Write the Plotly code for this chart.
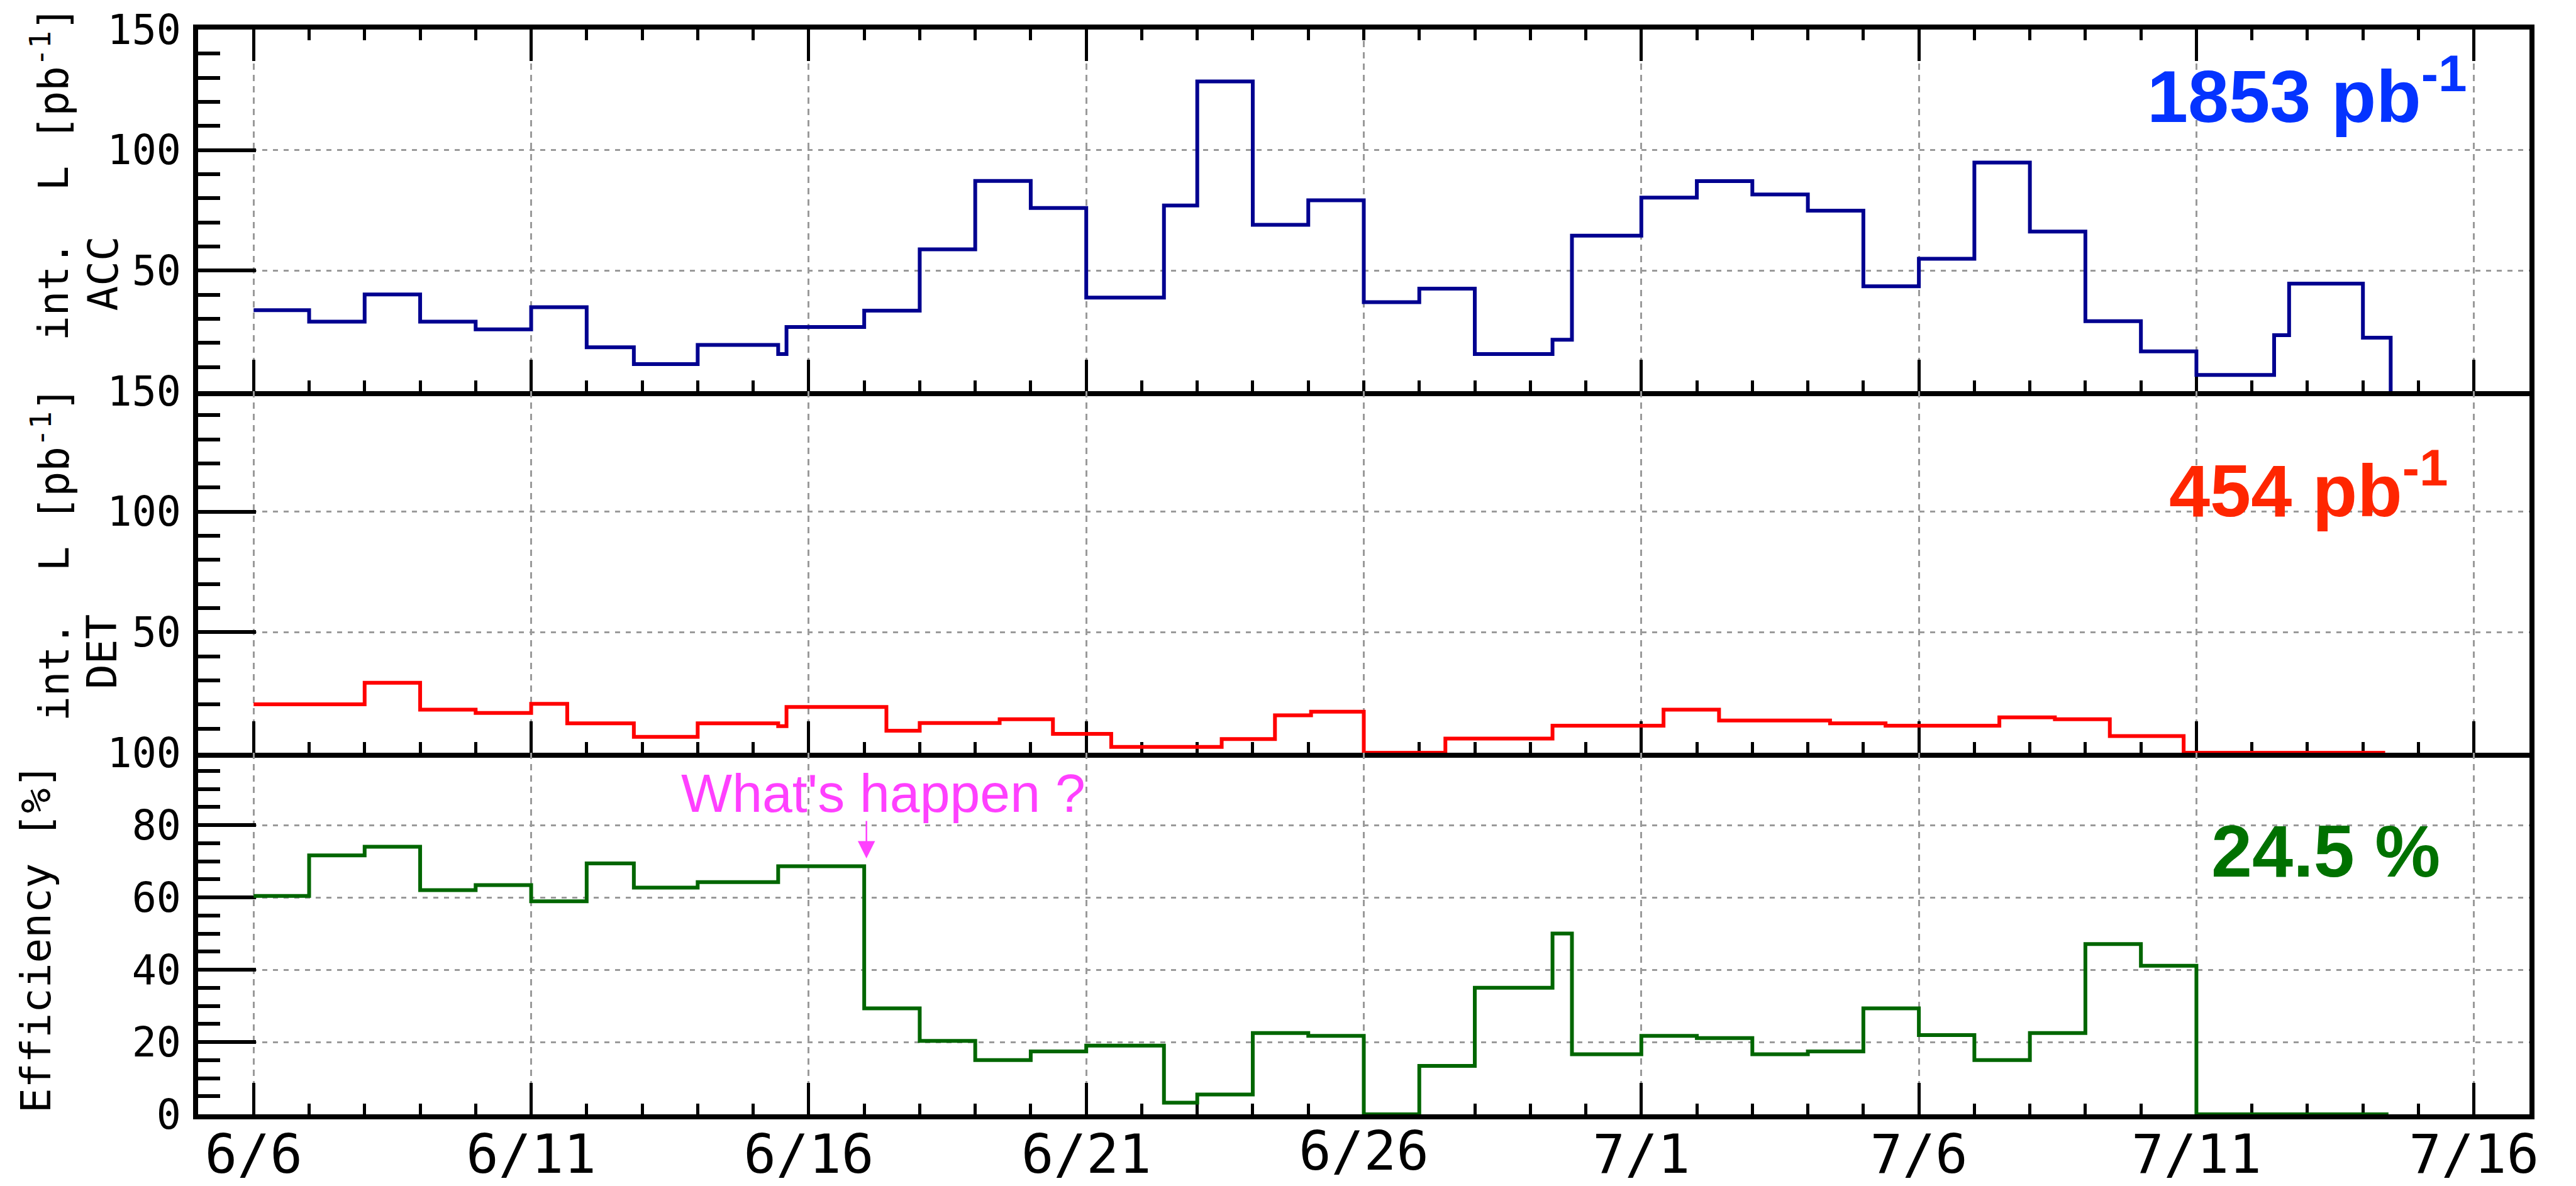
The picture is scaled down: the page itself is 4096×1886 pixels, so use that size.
import plotly.graph_objects as go

# ---------------- data ----------------
# x positions are days counted from 6/6 (day 0)
tick_days = [0, 5, 10, 15, 20, 25, 30, 35, 40]
tick_labels = ["6/6", "6/11", "6/16", "6/21", "6/26", "7/1", "7/6", "7/11", "7/16"]
low_label = "6/26"  # this date label sits a little lower than the others

acc_edges = [0, 1, 2, 3, 4, 5, 6, 6.85, 8, 9.45, 9.6, 11, 12, 13, 14, 15, 16.4, 17, 18, 19,
             20, 21, 22, 23.4, 23.75, 25, 26, 27, 28, 29, 30, 31, 32, 33, 34, 35, 36.4, 36.67, 38, 38.5]
acc_values = [33.6, 28.8, 40.1, 28.8, 25.6, 34.8, 18.2, 11.2, 19.2, 15.4, 26.6, 33.4, 58.8, 87.2,
              76.0, 38.8, 77.0, 128.5, 69.0, 79.2, 36.9, 42.5, 15.4, 21.3, 64.5, 80.3, 87.1, 81.6,
              74.9, 43.5, 54.9, 94.8, 66.2, 29.0, 16.5, 6.7, 23.2, 44.6, 22.2]

det_edges = [0, 2, 3, 4, 5, 5.65, 6.85, 8, 9.45, 9.6, 11.4, 12, 13.44, 14.4, 15.45, 17.44, 18.4,
             19.05, 20, 21.47, 23.4, 25.4, 26.4, 28.4, 29.4, 31.45, 32.45, 33.44, 34.77, 38.4]
det_values = [20.1, 29.0, 17.9, 16.5, 20.3, 12.2, 6.6, 12.2, 11.0, 19.0, 9.1, 12.3, 13.9, 7.8,
              2.4, 5.7, 15.5, 17.0, 0.0, 5.9, 11.2, 17.9, 13.4, 12.2, 11.2, 14.7, 13.9, 6.9, 0.0]

eff_edges = [0, 1, 2, 3, 4, 5, 6, 6.85, 8, 9.45, 11, 12, 13, 14, 15, 16.4, 17, 18, 19, 20, 21, 22,
             23.4, 23.75, 25, 26, 27, 28, 29, 30, 31, 32, 33, 34, 35, 38.46]
eff_values = [60.4, 71.6, 74.0, 62.0, 63.4, 58.9, 69.4, 62.7, 64.2, 68.6, 29.3, 20.3, 15.0, 17.4,
              19.0, 3.2, 5.5, 22.5, 21.7, 0.0, 13.4, 35.0, 50.0, 16.6, 21.7, 21.1, 16.6, 17.4,
              29.3, 21.9, 15.0, 22.5, 47.1, 41.1, 0.0]

acc_total = "1853 pb<sup>-1</sup>"
det_total = "454 pb<sup>-1</sup>"
eff_total = "24.5 %"
note_text = "What's happen ?"
note_day = 11.04
note_span = [81.4, 70.8]  # arrow tail, arrow tip (efficiency units)

# ---------------- layout geometry ----------------
W, H = 4096, 1886
ML, MR, MT, MB = 315, 74, 47, 114
PW = W - ML - MR
PH = H - MT - MB


def px(x):
    return (x - ML) / PW


def py(y):
    return (H - MB - y) / PH


MONO = "DejaVu Sans Mono"
SANS = "Liberation Sans, Arial, sans-serif"
GRID = "#9a9a9a"

fig = go.Figure()


def step_trace(edges, values, color, yaxis):
    return go.Scatter(
        x=edges, y=values + [0.0], mode="lines", line_shape="hv",
        line=dict(color=color, width=6), xaxis=yaxis.replace("y", "x"), yaxis=yaxis,
        cliponaxis=False, showlegend=False, hoverinfo="skip")


fig.add_trace(step_trace(acc_edges, acc_values, "#000090", "y"))
fig.add_trace(step_trace(det_edges, det_values, "#ff0000", "y2"))
fig.add_trace(step_trace(eff_edges, eff_values, "#006600", "y3"))
# carrier for the separate (lower) date label axis
fig.add_trace(go.Scatter(x=[None], y=[None], xaxis="x4", yaxis="y3", mode="lines",
                         showlegend=False, hoverinfo="skip"))

minor_days = list(range(-1, 42))
main_ticktext = [t if t != low_label else "" for t in tick_labels]


def xaxis(anchor, labels, mirror, showline=True):
    return dict(
        anchor=anchor, range=[-1, 41], tickmode="array", tickvals=tick_days,
        ticktext=main_ticktext,
        showticklabels=labels, tickfont=dict(family=MONO, size=86, color="black"),
        ticks="inside", ticklen=50, tickwidth=5, tickcolor="black",
        minor=dict(ticks="inside", ticklen=17, tickwidth=5, tickcolor="black",
                   tickmode="array", tickvals=minor_days, showgrid=False),
        showgrid=True, gridcolor=GRID, gridwidth=3, griddash="10px,8px",
        showline=showline, linecolor="black", linewidth=8, mirror=mirror,
        zeroline=False, layer="below traces", fixedrange=True, automargin=False,
        ticklabelstandoff=-18,
    )


def yaxis(domain, rng, major, minor, labels):
    return dict(
        domain=domain, range=rng, tickmode="array", tickvals=major, ticktext=labels,
        tickfont=dict(family=MONO, size=65, color="black"),
        ticks="inside", ticklen=92, tickwidth=6, tickcolor="black",
        minor=dict(ticks="inside", ticklen=35, tickwidth=6, tickcolor="black",
                   tickmode="array", tickvals=minor, showgrid=False),
        showgrid=True, gridcolor=GRID, gridwidth=3, griddash="8px,9px",
        showline=True, linecolor="black", linewidth=8, mirror=True,
        zeroline=False, layer="below traces", fixedrange=True, automargin=False,
        ticklabelstandoff=6,
    )


lum_major = [50, 100, 150]
lum_labels = ["50", "100", "150"]
lum_minor = [v for v in range(10, 150, 10) if v % 50]
eff_major = [0, 20, 40, 60, 80, 100]
eff_labels = ["0", "20", "40", "60", "80", "100"]
eff_minor = [v for v in range(5, 100, 5) if v % 20]

fig.update_layout(
    width=W, height=H, margin=dict(l=ML, r=MR, t=MT, b=MB, autoexpand=False),
    paper_bgcolor="white", plot_bgcolor="white",
    xaxis=xaxis("y", False, "ticks"),
    xaxis2=xaxis("y2", False, False),
    xaxis3=xaxis("y3", True, False),
    xaxis4=dict(anchor="y3", overlaying="x3", side="bottom", range=[-1, 41],
                tickmode="array", tickvals=[tick_days[tick_labels.index(low_label)]],
                ticktext=[low_label], tickfont=dict(family=MONO, size=86, color="black"),
                ticks="", showline=False, showgrid=False, zeroline=False,
                ticklabelstandoff=1, fixedrange=True, automargin=False),
    yaxis=yaxis([2 / 3, 1], [0, 150], lum_major, lum_minor, lum_labels),
    yaxis2=yaxis([1 / 3, 2 / 3], [0, 150], lum_major, lum_minor, lum_labels),
    yaxis3=yaxis([0, 1 / 3], [0, 100], eff_major, eff_minor, eff_labels),
)

nb = "\u00a0"
ann = []
# y titles
ann.append(dict(text=f"int.{nb}{nb}L{nb}[pb<sup>-1</sup>]", x=px(80), y=py(276),
                textangle=-90, font=dict(family=MONO, size=66, color="black")))
ann.append(dict(text="ACC", x=px(163.5), y=py(435), textangle=-90,
                font=dict(family=MONO, size=66, color="black")))
ann.append(dict(text=f"int.{nb}{nb}L{nb}[pb<sup>-1</sup>]", x=px(81), y=py(881),
                textangle=-90, font=dict(family=MONO, size=66, color="black")))
ann.append(dict(text="DET", x=px(162), y=py(1037), textangle=-90,
                font=dict(family=MONO, size=66, color="black")))
ann.append(dict(text=f"Efficiency{nb}[%]", x=px(57), y=py(1492), textangle=-90,
                font=dict(family=MONO, size=66, color="black")))
# totals
ann.append(dict(text=f"<b>{acc_total}</b>", x=px(3925), y=py(145), xanchor="right",
                font=dict(family=SANS, size=117, color="#0433ff")))
ann.append(dict(text=f"<b>{det_total}</b>", x=px(3894), y=py(772), xanchor="right",
                font=dict(family=SANS, size=117, color="#ff2600")))
ann.append(dict(text=f"<b>{eff_total}</b>", x=px(3882), y=py(1353), xanchor="right",
                font=dict(family=SANS, size=117, color="#007100")))
# note
ann.append(dict(text=note_text, x=px(1081), y=py(1261), xanchor="left",
                font=dict(family=SANS, size=86, color="#ff40ff")))

for a in ann:
    a.setdefault("xref", "paper")
    a.setdefault("yref", "paper")
    a.setdefault("xanchor", "center")
    a.setdefault("yanchor", "middle")
    a["showarrow"] = False
    fig.add_annotation(**a)

fig.add_annotation(x=note_day, y=note_span[1], ax=note_day, ay=note_span[0],
                   xref="x3", yref="y3", axref="x3", ayref="y3", text="",
                   showarrow=True, arrowhead=2, arrowsize=2.2, arrowwidth=2.5,
                   arrowcolor="#ff40ff", standoff=0, startstandoff=0)

fig.write_html("out.html")
